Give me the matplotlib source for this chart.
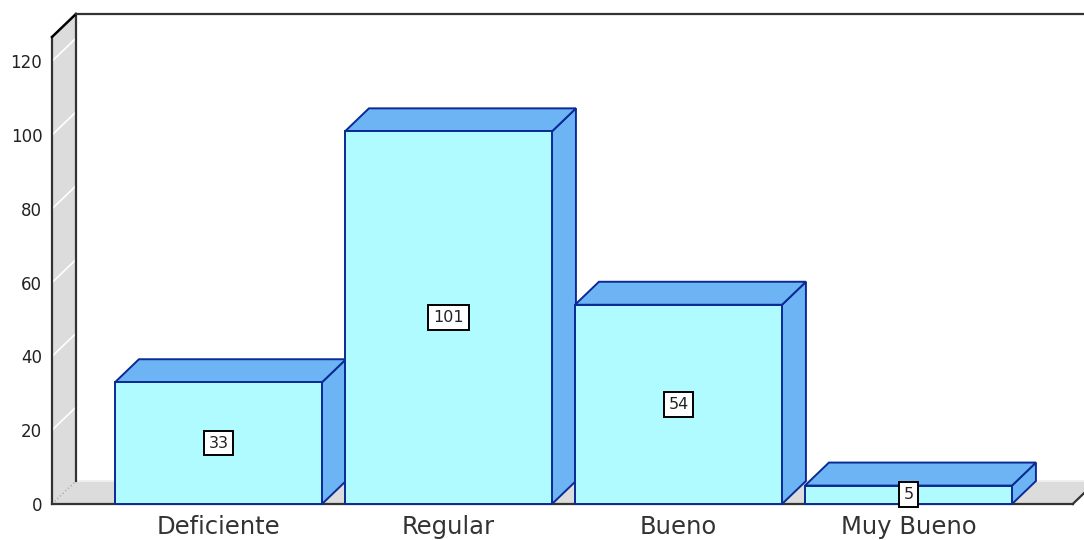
import matplotlib
matplotlib.use('Agg')
import matplotlib.pyplot as plt
from matplotlib.patches import Polygon

categories = ['Deficiente', 'Regular', 'Bueno', 'Muy Bueno']
values = [33, 101, 54, 5]
yticks = [0, 20, 40, 60, 80, 100, 120]

W, H = 1084, 540
barWidth = 0.9
depthX = 0.104 #depth of the fake 3d box in x units
depthY = 6.23 #same in value units
xMin, xMax = -0.724, 3.763
yMax = 132.8
wallTop = yMax - depthY
floorEnd = 3.714

faceColor = '#b0fbff'
sideColor = '#6cb4f4'
edgeColor = '#0a2a96'
wallColor = '#dcdcdc'
lineColor = '#333333'

plt.rcParams['font.family'] = ['DejaVu Sans']
fig = plt.figure(figsize=(W / 100, H / 100), dpi=100)
ax = fig.add_axes([52 / W, 36 / H, 1 - 52 / W, (504 - 14) / H])
ax.set_xlim(xMin, xMax)
ax.set_ylim(0, yMax)
for s in ax.spines.values():
  s.set_visible(False)

#left wall and floor
ax.add_patch(Polygon([[xMin, 0], [xMin + depthX, depthY], [xMin + depthX, yMax], [xMin, wallTop]],
                     fc=wallColor, ec='none', zorder=1))
ax.add_patch(Polygon([[xMin, 0], [xMin + depthX, depthY], [floorEnd + depthX, depthY], [floorEnd, 0]],
                     fc=wallColor, ec='none', zorder=1))
ax.plot([xMin + depthX, xMax], [depthY, depthY], color='#f0f0f0', lw=1.5, zorder=1, solid_capstyle='butt')
for t in yticks[1:]:
  ax.plot([xMin, xMin + depthX], [t, t + depthY], color='white', lw=1.2, zorder=2)
ax.plot([xMin, xMin + depthX], [0, depthY], color='#aaaaaa', lw=1, ls=':', zorder=2)

#frame lines
frame = dict(color=lineColor, lw=1.6, zorder=3, clip_on=False)
ax.plot([xMin, xMin], [0, wallTop], **frame)
ax.plot([xMin + depthX, xMin + depthX], [depthY, yMax], **frame)
ax.plot([xMin, xMin + depthX], [wallTop, yMax], color='black', lw=1.8, zorder=3, clip_on=False)
ax.plot([xMin + depthX, xMax], [yMax, yMax], **frame)
ax.plot([xMin, floorEnd], [0, 0], **frame)
ax.plot([floorEnd, floorEnd + depthX], [0, depthY], **frame)

#bars
for i, v in enumerate(values):
  left = i - barWidth / 2
  right = i + barWidth / 2
  ax.add_patch(Polygon([[right, 0], [right + depthX, depthY], [right + depthX, v + depthY], [right, v]],
                       fc=sideColor, ec=edgeColor, lw=1.4, zorder=4 + i, clip_on=False))
  ax.add_patch(Polygon([[left, v], [left + depthX, v + depthY], [right + depthX, v + depthY], [right, v]],
                       fc=sideColor, ec=edgeColor, lw=1.4, zorder=4 + i, clip_on=False))
  ax.bar(i, v, width=barWidth, color=faceColor, edgecolor=edgeColor, lw=1.4, zorder=4.5 + i, clip_on=False)
  ax.text(i, v / 2, str(v), ha='center', va='center', fontsize=11.5, color='#222222', zorder=20,
          bbox=dict(boxstyle='square,pad=0.3', fc='white', ec='black', lw=1.4))

ax.set_xticks(range(len(categories)))
ax.set_xticklabels(categories, fontsize=17.5, color='#333333')
ax.set_yticks(yticks)
ax.tick_params(axis='y', length=0, pad=7, labelsize=12, labelcolor='#222222')
ax.tick_params(axis='x', length=0, pad=8)

fig.savefig('out.png', dpi=100)
